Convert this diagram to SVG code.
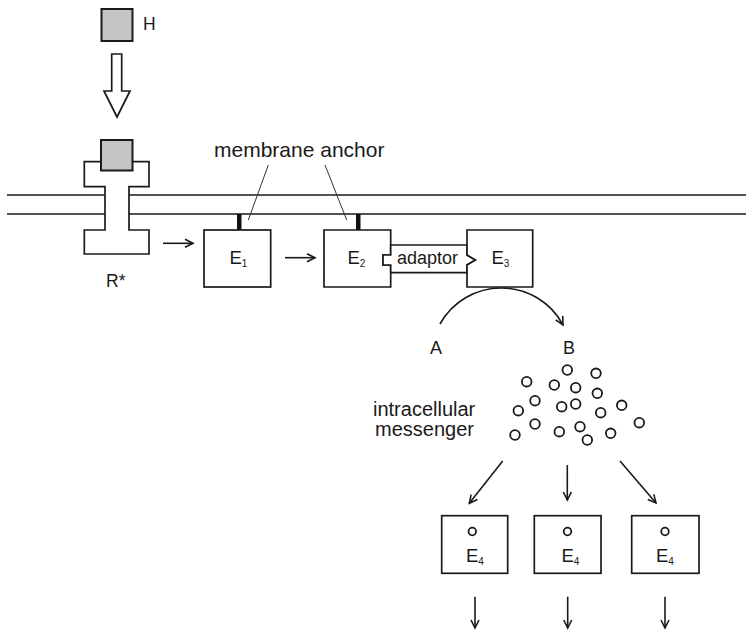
<svg xmlns="http://www.w3.org/2000/svg" width="746" height="631" viewBox="0 0 746 631">
<defs>
<style>
.ln{stroke:#1a1a1a;stroke-width:1.6;fill:none}
.box{stroke:#1a1a1a;stroke-width:1.7;fill:#fff}
.gray{stroke:#1a1a1a;stroke-width:2;fill:#c4c4c4}
.thin{stroke:#333;stroke-width:1;fill:none}
.t{font-family:"Liberation Sans",Arial,sans-serif;fill:#1a1a1a}
.dot{stroke:#1a1a1a;stroke-width:1.8;fill:#fff}
</style>
<marker id="ah" markerUnits="userSpaceOnUse" markerWidth="12" markerHeight="12" refX="9" refY="5" orient="auto">
<path d="M1,1 L9,5 L1,9" fill="none" stroke="#1a1a1a" stroke-width="1.6"/>
</marker>
</defs>
<rect width="746" height="631" fill="#fff"/>

<g id="membrane">
<line class="ln" x1="7" y1="195" x2="746" y2="195"/>
<line class="ln" x1="7" y1="214" x2="746" y2="214"/>
</g>

<g id="hormone">
<rect class="gray" x="101.5" y="9" width="31" height="32"/>
<text class="t" x="143" y="30" font-size="17.5">H</text>
</g>

<g id="bigArrow">
<path class="box" d="M111.7,54 H121.7 V91 H130 L117,117 L104,91 H111.7 Z"/>
</g>

<g id="receptor">
<path class="box" d="M84.3,161.7 H149 V186.7 H129 V230 H149 V254 H84.3 V230 H105 V186.7 H84.3 Z"/>
<rect class="gray" x="101" y="140" width="31.5" height="30.5"/>
<text class="t" x="106" y="287" font-size="17.5">R*</text>
</g>

<g id="label-anchor">
<text class="t" x="214" y="157" font-size="21">membrane anchor</text>
</g>

<g id="E1">
<rect x="237" y="214" width="4.5" height="16" fill="#111"/>
<rect class="box" x="204" y="230" width="66.7" height="57"/>
<text class="t" x="229.5" y="263.5" font-size="18.5">E<tspan font-size="10" dy="3">1</tspan></text>
</g>

<g id="E2">
<rect x="356" y="214" width="4.5" height="16" fill="#111"/>
<path class="box" d="M324,230 H390.7 V255 H383 V265 H390.7 V287 H324 Z"/>
<text class="t" x="347.5" y="263.5" font-size="18.5">E<tspan font-size="10" dy="3">2</tspan></text>
</g>

<g id="adaptor">
<path class="box" d="M390.7,245 H467 V255 L475.5,260 L467,265 V272.7 H390.7 V265 H383 V255 H390.7 Z"/>
<text class="t" x="397" y="264" font-size="18">adaptor</text>
</g>

<g id="E3">
<path class="box" d="M467,230 H532.7 V287 H467 V265 L475.5,260 L467,255 Z"/>
<text class="t" x="491.5" y="263.5" font-size="18.5">E<tspan font-size="10" dy="3">3</tspan></text>
</g>

<g id="AB">
<text class="t" x="430" y="354" font-size="18">A</text>
<text class="t" x="563" y="354" font-size="18">B</text>
</g>

<g id="messenger">
<text class="t" x="373" y="415.7" font-size="20">intracellular</text>
<text class="t" x="375" y="436" font-size="20">messenger</text>
<circle class="dot" cx="567.3" cy="370" r="4.8"/>
<circle class="dot" cx="596" cy="373.3" r="4.8"/>
<circle class="dot" cx="526.7" cy="381.7" r="4.8"/>
<circle class="dot" cx="554.3" cy="385" r="4.8"/>
<circle class="dot" cx="575.7" cy="387.7" r="4.8"/>
<circle class="dot" cx="597.3" cy="393.3" r="4.8"/>
<circle class="dot" cx="535" cy="400.7" r="4.8"/>
<circle class="dot" cx="561.7" cy="406.7" r="4.8"/>
<circle class="dot" cx="575.7" cy="404" r="4.8"/>
<circle class="dot" cx="621.7" cy="405.3" r="4.8"/>
<circle class="dot" cx="518.3" cy="410.7" r="4.8"/>
<circle class="dot" cx="600.7" cy="412.7" r="4.8"/>
<circle class="dot" cx="535" cy="424" r="4.8"/>
<circle class="dot" cx="639.3" cy="422.7" r="4.8"/>
<circle class="dot" cx="559.3" cy="431.7" r="4.8"/>
<circle class="dot" cx="580" cy="426.7" r="4.8"/>
<circle class="dot" cx="610.7" cy="433.3" r="4.8"/>
<circle class="dot" cx="515" cy="435" r="4.8"/>
<circle class="dot" cx="587.3" cy="440" r="4.8"/>
</g>

<g id="E4a">
<rect class="box" x="441.7" y="515.7" width="66" height="57.6"/>
<circle class="dot" cx="472.3" cy="531.5" r="3.8"/>
<text class="t" x="466" y="562" font-size="18.5">E<tspan font-size="10" dy="3">4</tspan></text>
</g>
<g id="E4b">
<rect class="box" x="534.3" y="515.7" width="66.7" height="57.6"/>
<circle class="dot" cx="567.5" cy="531.5" r="3.8"/>
<text class="t" x="561.5" y="562" font-size="18.5">E<tspan font-size="10" dy="3">4</tspan></text>
</g>
<g id="E4c">
<rect class="box" x="631.7" y="515.7" width="67.3" height="57.6"/>
<circle class="dot" cx="665" cy="531.5" r="3.8"/>
<text class="t" x="656" y="562" font-size="18.5">E<tspan font-size="10" dy="3">4</tspan></text>
</g>

<g id="connectors">
<line class="thin" x1="268.3" y1="165" x2="248.3" y2="220"/>
<line class="thin" x1="325" y1="165" x2="346.7" y2="220"/>
<line class="ln" x1="163" y1="243.3" x2="193" y2="243.3" marker-end="url(#ah)"/>
<line class="ln" x1="285" y1="257.7" x2="315" y2="257.7" marker-end="url(#ah)"/>
<path class="ln" d="M440,324 A70,70 0 0 1 563,325" marker-end="url(#ah)"/>
<line class="ln" x1="502.7" y1="461" x2="469.3" y2="503.3" marker-end="url(#ah)"/>
<line class="ln" x1="567.3" y1="465" x2="567.3" y2="500" marker-end="url(#ah)"/>
<line class="ln" x1="620" y1="461" x2="656" y2="503" marker-end="url(#ah)"/>
<line class="ln" x1="475" y1="596.7" x2="475" y2="628" marker-end="url(#ah)"/>
<line class="ln" x1="567.7" y1="596.7" x2="567.7" y2="628" marker-end="url(#ah)"/>
<line class="ln" x1="665" y1="596.7" x2="665" y2="628" marker-end="url(#ah)"/>
</g>
</svg>
